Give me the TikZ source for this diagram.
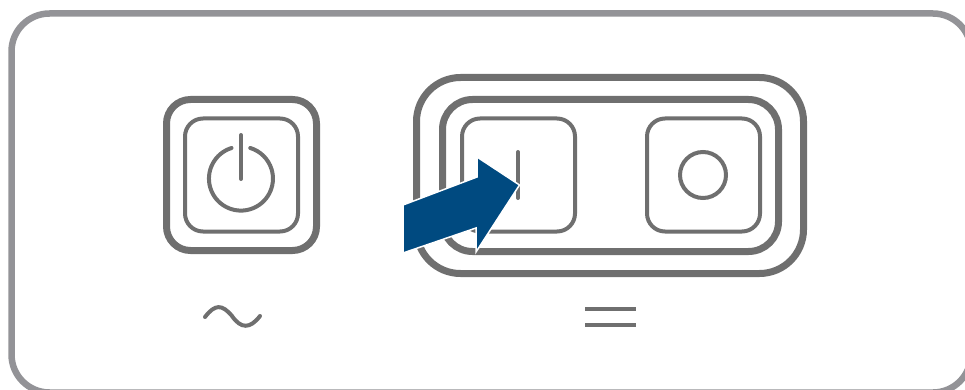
\documentclass[tikz,border=0pt]{standalone}
\usetikzlibrary{positioning}
\definecolor{framegray}{HTML}{939397}
\definecolor{keygray}{HTML}{6F6F6F}
\definecolor{arrowblue}{HTML}{004A80}
\tikzset{
  keyface/.style={draw=keygray, line width=4pt, rounded corners=18pt, minimum width=113pt, minimum height=113pt, inner sep=0pt},
  keyring/.style={draw=keygray, line width=7pt, inner sep=0pt},
  symline/.style={draw=keygray, line width=4pt, line cap=round},
}
\begin{document}
\begin{tikzpicture}[x=1pt, y=-1pt]
  \useasboundingbox (0,0) rectangle (965,390);
  % housing
  \draw[framegray, line width=6.5pt, rounded corners=38pt] (11.5,13.5) rectangle (971,392.5);
  % left key
  \node[keyface] (acface) at (241.5,175) {};
  \node[keyring, rounded corners=24pt, minimum width=150pt, minimum height=151pt] (acring) at (acface) {};
  \draw[symline] (241,135) -- (241,179);
  \draw[symline] (231.6,148) arc[start angle=253, end angle=-73, radius=32];
  % right keys
  \node[keyface] (onface) at (518.5,175) {};
  \node[keyface] (offface) at (703.5,175) {};
  \node[keyring, rounded corners=30pt, minimum width=336pt, minimum height=152pt] (dcring) at (610.5,175.5) {};
  \node[keyring, rounded corners=44pt, minimum width=387pt, minimum height=196pt] (dcouter) at (610,175.5) {};
  \draw[symline] (518,152) -- (518,198);
  \node[draw=keygray, line width=4pt, circle, minimum size=46pt, inner sep=0pt] (offsym) at (703,175) {};
  % marks below
  \draw[symline] (205,317) .. controls (215,304) and (222,304) .. (232,316) .. controls (241,329) and (250,329) .. (260,316);
  \draw[symline, line cap=butt] (585,309) -- (636,309);
  \draw[symline, line cap=butt] (585,325) -- (636,325);
  % arrow
  \draw[fill=arrowblue, draw=white, line width=1.5pt] (403,205) -- (477,177) -- (477,157) -- (519.5,185) -- (476,252) -- (476,228) -- (403,253) -- cycle;
\end{tikzpicture}
\end{document}
